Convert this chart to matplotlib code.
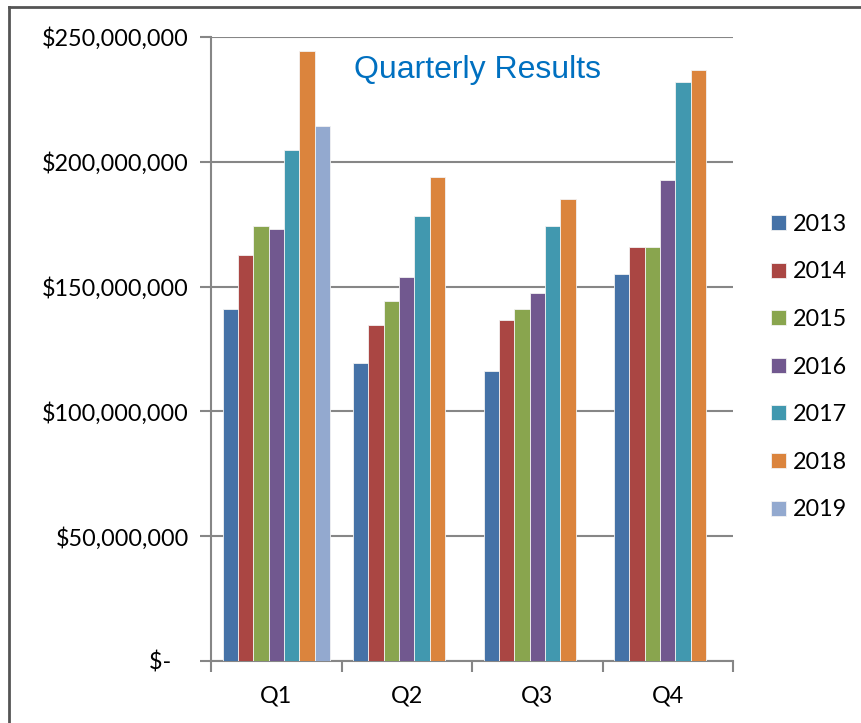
import numpy as np
import matplotlib
matplotlib.use("Agg")
import matplotlib.pyplot as plt
from matplotlib.lines import Line2D
from matplotlib.ticker import FuncFormatter

quarters = ["Q1", "Q2", "Q3", "Q4"]
years = ["2013", "2014", "2015", "2016", "2017", "2018", "2019"]

# revenue in millions of dollars, one list per year (Q1..Q4)
rev_2013 = [140.9, 119.3, 116.2, 155.2]
rev_2014 = [162.7, 134.6, 136.5, 165.7]
rev_2015 = [174.2, 144.2, 140.9, 165.7]
rev_2016 = [173.1, 153.8, 147.6, 192.6]
rev_2017 = [204.7, 178.2, 174.4, 232.1]
rev_2018 = [244.4, 194.0, 185.1, 236.9]
rev_2019 = [214.3, np.nan, np.nan, np.nan]

colors = ["#4572A7", "#AA4643", "#89A54E", "#71588F", "#4198AF", "#DB843D", "#93A9CF"]

series = [rev_2013, rev_2014, rev_2015, rev_2016, rev_2017, rev_2018, rev_2019]

plt.rcParams['font.family'] = ['Lato', 'DejaVu Sans']

fig = plt.figure(figsize=(8.61, 7.23), dpi=100)
ax = fig.add_axes([211 / 861, 1 - 661 / 723, 522 / 861, 624 / 723])

x = np.arange(len(quarters))
n = len(series)
w = 1.0 / (n + 1.5)
for i, vals in enumerate(series):
    vals = np.array(vals) * 1e6
    ax.bar(x + (i - (n - 1) / 2) * w, vals, width=w, color=colors[i],
           edgecolor="#f2f2f2", linewidth=0.6, label=years[i], zorder=3)

ax.set_xlim(-0.5, len(quarters) - 0.5)
ax.set_ylim(0, 250e6)
ax.set_yticks(np.arange(0, 250e6 + 1, 50e6))


def money(v, pos):
    if v == 0:
        return "$-   "
    return "${:,.0f}".format(v)


ax.yaxis.set_major_formatter(FuncFormatter(money))
ax.set_xticks(np.arange(-0.5, len(quarters)), minor=False)
ax.set_xticklabels([])
ax.set_xticks(x, minor=True)
ax.set_xticklabels(quarters, minor=True)

ax.grid(axis="y", color="#868686", linewidth=1.5, zorder=0)
for s in ["top", "right"]:
    ax.spines[s].set_visible(False)
for s in ["left", "bottom"]:
    ax.spines[s].set_color("#868686")
    ax.spines[s].set_linewidth(1.5)

ax.tick_params(axis="y", direction="out", length=8, width=1.5, color="#868686",
               labelsize=16.8, pad=8)
ax.tick_params(axis="x", which="major", direction="out", length=8, width=1.5,
               color="#868686")
ax.tick_params(axis="x", which="minor", length=0, labelsize=16.8, pad=18)

fig.text(478 / 861, 1 - 70 / 723, "Quarterly Results", color="#0070C0",
         fontsize=23, family="Liberation Sans", ha="center", va="center")

ax.legend(loc="center left", bbox_to_anchor=(762 / 861, 1 - 367 / 723),
          bbox_transform=fig.transFigure, frameon=False, fontsize=16.8,
          handlelength=0.62, handleheight=0.62, handletextpad=0.3,
          labelspacing=1.14, borderaxespad=0)

# outer chart border (top and left edges visible)
fig.add_artist(Line2D([9 / 861, 1.0], [1 - 7 / 723, 1 - 7 / 723],
                      transform=fig.transFigure, color="#555555", linewidth=2))
fig.add_artist(Line2D([9 / 861, 9 / 861], [0.0, 1 - 7 / 723],
                      transform=fig.transFigure, color="#555555", linewidth=2))

fig.savefig("out.png", dpi=100)
